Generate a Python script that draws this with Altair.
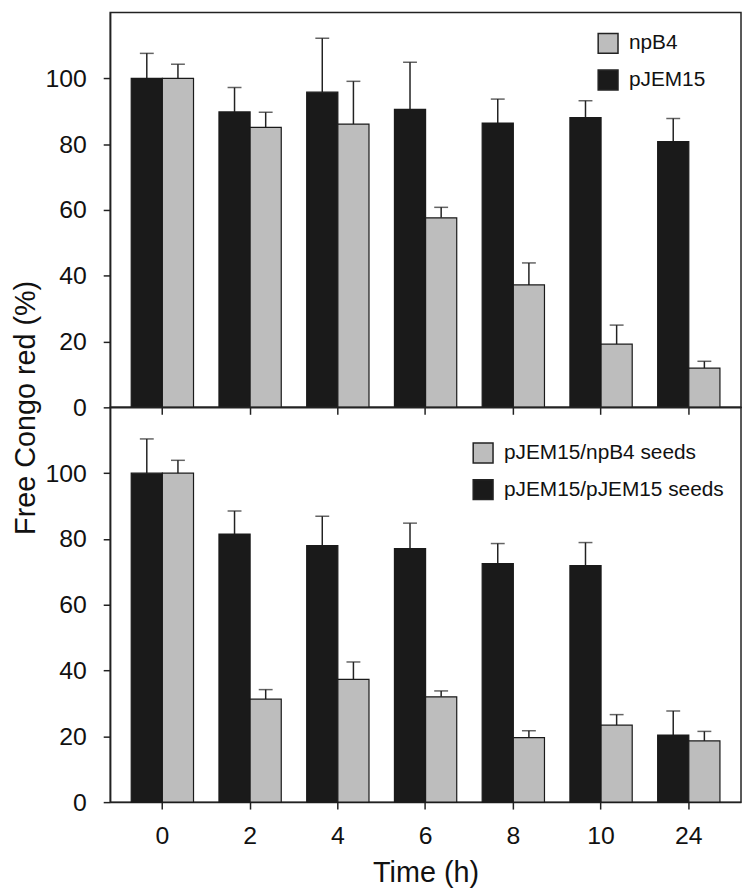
import altair as alt
import pandas as pd

times = ["0", "2", "4", "6", "8", "10", "24"]

# Top panel
top_labels = ["npB4", "pJEM15"]
top_pjem15 = [100, 89.8, 95.8, 90.6, 86.4, 88.1, 80.8]
top_pjem15_err = [7.6, 7.4, 16.4, 14.3, 7.3, 5.1, 7.0]
top_npb4 = [100, 85.1, 86.1, 57.6, 37.2, 19.2, 11.9]
top_npb4_err = [4.3, 4.6, 13.0, 3.2, 6.7, 5.8, 2.1]

# Bottom panel
bot_labels = ["pJEM15/npB4 seeds", "pJEM15/pJEM15 seeds"]
bot_pjem15 = [100, 81.5, 78.0, 77.1, 72.5, 71.9, 20.4]
bot_pjem15_err = [10.4, 7.0, 8.9, 7.7, 6.1, 7.0, 7.3]
bot_npb4 = [100, 31.3, 37.3, 32.0, 19.6, 23.4, 18.6]
bot_npb4_err = [3.9, 2.9, 5.3, 1.8, 2.1, 3.2, 2.9]

GRAY = "#bdbdbd"
BLACK = "#1a1a1a"
LINE = "#222222"
FONT = "Liberation Sans"
W = 636
H = 398
PAD_IN = 0.29
PAD_OUT = 0.24
STEP = W / (len(times) - PAD_IN + 2 * PAD_OUT)
BAR_W = STEP * (1 - PAD_IN) / 2


def make_df(labels, gray_vals, gray_err, black_vals, black_err):
    rows = []
    for i, t in enumerate(times):
        rows.append({"time": t, "series": labels[1], "value": black_vals[i],
                     "upper": black_vals[i] + black_err[i]})
        rows.append({"time": t, "series": labels[0], "value": gray_vals[i],
                     "upper": gray_vals[i] + gray_err[i]})
    return pd.DataFrame(rows)


def panel(df, labels, top, legend_x, legend_y):
    x_axis = alt.Axis(
        labels=not top,
        title=None if top else "Time (h)",
        labelAngle=0,
        labelFontSize=25,
        labelPadding=15,
        titleFontSize=29,
        titleFontWeight="normal",
        titlePadding=10,
        ticks=True,
        tickSize=7,
        grid=False,
    )
    y_axis_kwargs = dict(
        values=[0, 20, 40, 60, 80, 100],
        labelFontSize=25,
        labelPadding=17,
        tickSize=7,
        grid=False,
    )
    if top:
        y_axis = alt.Axis(
            title="Free Congo red (%)",
            titleFontSize=29,
            titleFontWeight="normal",
            titleX=-85,
            titleY=H,
            titleAngle=270,
            titleAlign="center",
            titleBaseline="middle",
            **y_axis_kwargs,
        )
    else:
        y_axis = alt.Axis(title="", **y_axis_kwargs)

    x_enc = alt.X("time:N", sort=times, axis=x_axis,
                  scale=alt.Scale(type="band", paddingInner=PAD_IN, paddingOuter=PAD_OUT))
    y_scale = alt.Scale(domain=[0, 120], nice=False)
    y_val = alt.Y("value:Q", scale=y_scale, axis=y_axis)
    y_up = alt.Y("upper:Q", scale=y_scale, axis=y_axis)
    color_enc = alt.Color(
        "series:N",
        scale=alt.Scale(domain=labels, range=[GRAY, BLACK]),
        legend=alt.Legend(
            title=None,
            orient="none",
            legendX=legend_x,
            legendY=legend_y,
            symbolType="square",
            symbolSize=400,
            symbolStrokeColor=LINE,
            symbolStrokeWidth=1.5,
            symbolOpacity=1,
            labelFontSize=21,
            labelFont=FONT,
            labelColor="#111111",
            labelOffset=10,
            labelLimit=400,
            rowPadding=11,
            padding=0,
        ),
    )

    layers = []
    # black series on the left half of the group, gray on the right half
    for series, off in [(labels[1], -BAR_W / 2), (labels[0], BAR_W / 2)]:
        base = alt.Chart(df).transform_filter(alt.datum.series == series)
        bars = base.mark_bar(stroke=BLACK, strokeWidth=1.2, width=BAR_W, xOffset=off).encode(
            x=x_enc, y=y_val, color=color_enc,
        )
        rules = base.mark_rule(color=LINE, strokeWidth=1.5, xOffset=off).encode(
            x=x_enc, y=y_val, y2="upper:Q",
        )
        caps = base.mark_tick(color=LINE, size=14, thickness=1.5, xOffset=off).encode(
            x=x_enc, y=y_up,
        )
        layers += [rules, caps, bars]
    return alt.layer(*layers).properties(width=W, height=H)


top_df = make_df(top_labels, top_npb4, top_npb4_err, top_pjem15, top_pjem15_err)
bot_df = make_df(bot_labels, bot_npb4, bot_npb4_err, bot_pjem15, bot_pjem15_err)

chart = alt.vconcat(
    panel(top_df, top_labels, True, 491, 20),
    panel(bot_df, bot_labels, False, 365, 35),
    spacing=0,
    bounds="flush",
).resolve_scale(color="independent").properties(
    padding={"left": 3, "top": 0, "right": 0, "bottom": 0},
    background="white",
).configure_view(
    stroke=LINE, strokeWidth=1.5
).configure_axis(
    grid=False,
    domainColor=LINE,
    domainWidth=1.5,
    tickColor=LINE,
    tickWidth=1.5,
    labelColor="#111111",
    titleColor="#111111",
    labelFont=FONT,
    titleFont=FONT,
)

chart.save("out.html", embed_options={"renderer": "svg", "actions": False})
